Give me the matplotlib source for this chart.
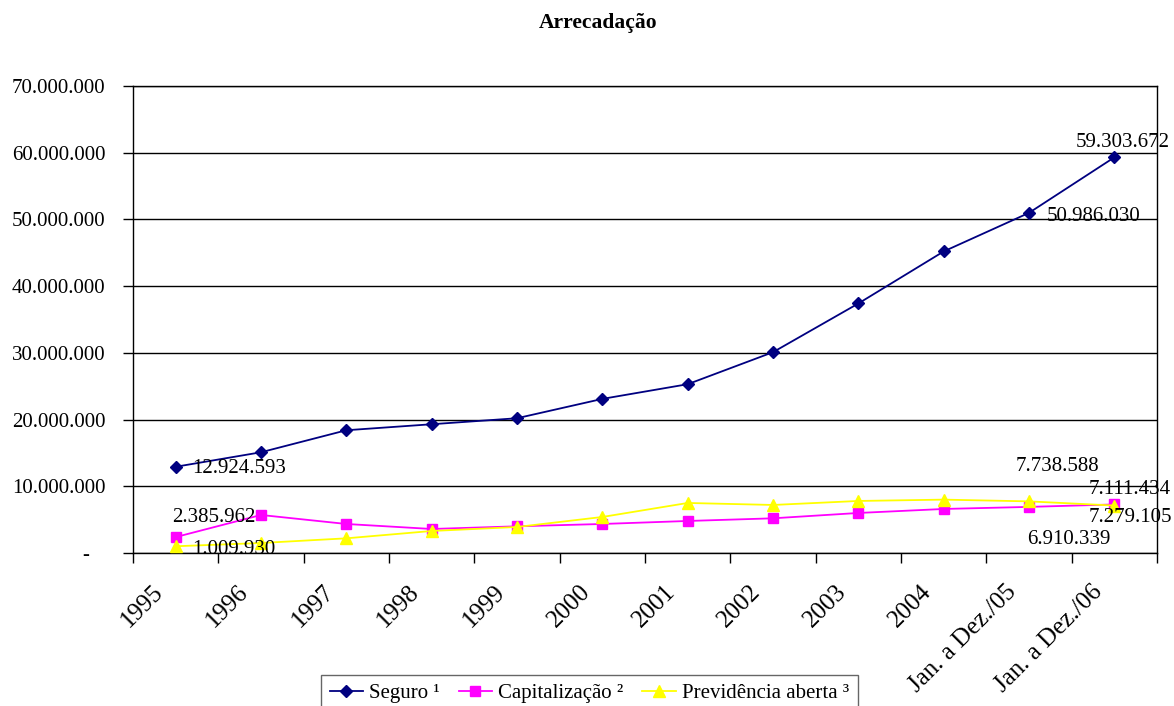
import matplotlib
matplotlib.use("Agg")
import matplotlib.pyplot as plt
import matplotlib.transforms as mtransforms
from matplotlib.ticker import FuncFormatter, MultipleLocator, FixedLocator

plt.rcParams["font.family"] = ["Liberation Serif", "DejaVu Serif"]

# Categories and series (R$ mil)
categories = ["1995", "1996", "1997", "1998", "1999", "2000", "2001", "2002",
              "2003", "2004", "Jan. a Dez./05", "Jan. a Dez./06"]
seguro = [12924593, 15100000, 18400000, 19300000, 20200000, 23100000,
          25300000, 30100000, 37400000, 45200000, 50986030, 59303672]
capitalizacao = [2385962, 5700000, 4350000, 3600000, 4000000, 4350000,
                 4800000, 5200000, 6000000, 6600000, 6910339, 7279105]
previdencia = [1009930, 1500000, 2200000, 3300000, 3900000, 5400000,
               7500000, 7200000, 7800000, 8000000, 7738588, 7111434]
series_names = ["Seguro \u00b9", "Capitaliza\u00e7\u00e3o \u00b2", "Previd\u00eancia aberta \u00b3"]

fig = plt.figure(figsize=(11.74, 7.06), dpi=100)
ax = fig.add_axes([133 / 1174, 1 - 553 / 706, (1157 - 133) / 1174, (553 - 86) / 706])

x = list(range(len(categories)))
l1, = ax.plot(x, seguro, color="#000080", lw=1.3, marker="D", ms=6.5, zorder=3)
l2, = ax.plot(x, capitalizacao, color="#FF00FF", lw=1.3, marker="s", ms=7.5, zorder=3)
l3, = ax.plot(x, previdencia, color="#FFFF00", lw=1.3, marker="^", ms=8.5, zorder=4)

ax.set_xlim(-0.5, len(categories) - 0.5)
ax.set_ylim(0, 70000000)

def fmt(v, pos):
    if v == 0:
        return "-   "
    return f"{int(round(v)):,}".replace(",", ".")

ax.yaxis.set_major_locator(MultipleLocator(10000000))
ax.yaxis.set_major_formatter(FuncFormatter(fmt))
ax.grid(axis="y", color="black", lw=1.0, zorder=1)
ax.set_axisbelow(True)

ax.set_xticks(x)
ax.set_xticklabels(categories)
ax.xaxis.set_minor_locator(FixedLocator([i - 0.5 for i in range(len(categories) + 1)]))
ax.tick_params(axis="x", which="major", length=0, pad=20, labelsize=18)
ax.tick_params(axis="x", which="minor", length=7, width=1, direction="out")
ax.tick_params(axis="y", which="major", length=7, width=1, direction="out", pad=13, labelsize=15)

shift = mtransforms.ScaledTranslation(-8 / 100, 0, fig.dpi_scale_trans)
for lbl in ax.get_xticklabels():
    lbl.set_rotation(45)
    lbl.set_ha("right")
    lbl.set_va("top")
    lbl.set_transform(lbl.get_transform() + shift)

for sp in ax.spines.values():
    sp.set_color("black")
    sp.set_linewidth(1.0)

def label(series, i, dx, dy):
    v = series[i]
    ax.annotate(fmt(v, None), xy=(i, v), xytext=(dx, dy), textcoords="offset pixels",
                ha="left", va="center", fontsize=15, zorder=5)

last = len(categories) - 1
label(seguro, 0, 17, -2)
label(seguro, last - 1, 18, -4)
label(seguro, last, -39, 15)
label(capitalizacao, 0, -4, 20)
label(previdencia, 0, 17, -3)
label(previdencia, last - 1, -13, 35)
label(capitalizacao, last - 1, -2, -33)
label(previdencia, last, -26, 16)
label(capitalizacao, last, -26, -13)

fig.text(598 / 1174, 1 - 23 / 706, "Arrecada\u00e7\u00e3o", ha="center", va="center",
         fontsize=15.5, fontweight="bold")

leg = fig.legend([l1, l2, l3], series_names, loc="upper left",
                 bbox_to_anchor=(321 / 1174, 1 - 675 / 706), ncol=3, frameon=True,
                 fancybox=False, edgecolor="#404040", fontsize=15, handlelength=1.6,
                 handletextpad=0.3, columnspacing=0.9, borderpad=0.42, borderaxespad=0)
leg.get_frame().set_linewidth(1.0)

fig.savefig("out.png", dpi=100)
